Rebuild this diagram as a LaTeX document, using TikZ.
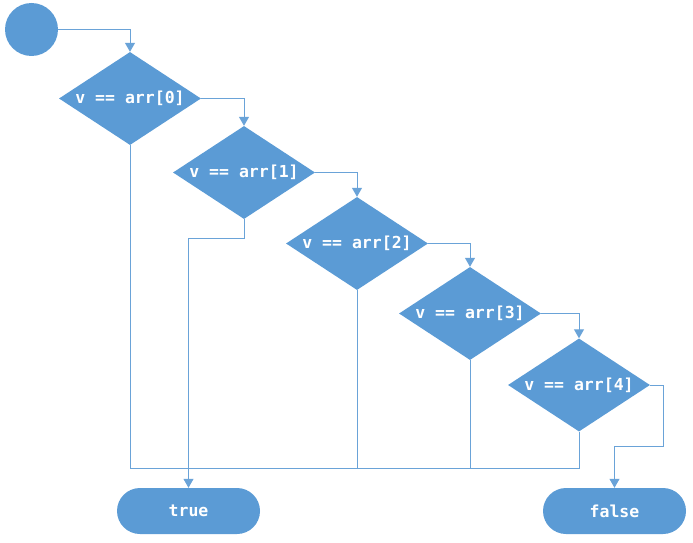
\documentclass[tikz,border=0pt]{standalone}
\usepackage{fontspec}
\newfontfamily\codefont{DejaVu Sans Mono}
\usetikzlibrary{shapes.geometric,shapes.misc,arrows.meta}
\definecolor{boxblue}{HTML}{5B9BD5}
\definecolor{lineblue}{HTML}{6AA3D8}
\begin{document}
\begin{tikzpicture}[x=1pt,y=-1pt,
  dia/.style={diamond,aspect=1.53,fill=boxblue,minimum width=142pt,minimum height=93pt,inner sep=0pt,text=white,font=\codefont\bfseries\fontsize{16.5}{18}\selectfont},
  term/.style={rounded rectangle,fill=boxblue,minimum width=143pt,minimum height=46pt,inner sep=0pt,text=white,font=\codefont\bfseries\fontsize{16.5}{18}\selectfont},
  conn/.style={draw=lineblue,line width=1pt},
  arr/.style={conn,-{Triangle[length=9pt,width=10pt]}}]
\useasboundingbox (0,0) rectangle (693,543);
\node[circle,fill=boxblue,minimum size=53pt,inner sep=0pt] (start) at (31.5,29.5) {};
\node[dia] (d0) at (130,98.5) {v == arr[0]};
\node[dia] (d1) at (244,172.5) {v == arr[1]};
\node[dia] (d2) at (357,243.5) {v == arr[2]};
\node[dia] (d3) at (470,313.5) {v == arr[3]};
\node[dia] (d4) at (579,385) {v == arr[4]};
\node[term] (t) at (188.5,511) {true};
\node[term] (f) at (614.5,511) {false};
\coordinate (c1) at (188.5,238);
\coordinate (c4) at (663,446);
\coordinate (b) at (130,468);
\draw[arr] (start.east) -| (d0.north);
\draw[arr] (d0.east) -| (d1.north);
\draw[arr] (d1.east) -| (d2.north);
\draw[arr] (d2.east) -| (d3.north);
\draw[arr] (d3.east) -| (d4.north);
\draw[arr] (d4.east) -| (c4) -| (f.north);
\draw[arr] (d1.south) |- (c1) -- (t.north);
\draw[conn] (d0.south) -- (d0.south |- b) -- (d4.south |- b) -- (d4.south);
\draw[conn] (d2.south) -- (d2.south |- b);
\draw[conn] (d3.south) -- (d3.south |- b);
\end{tikzpicture}
\end{document}
